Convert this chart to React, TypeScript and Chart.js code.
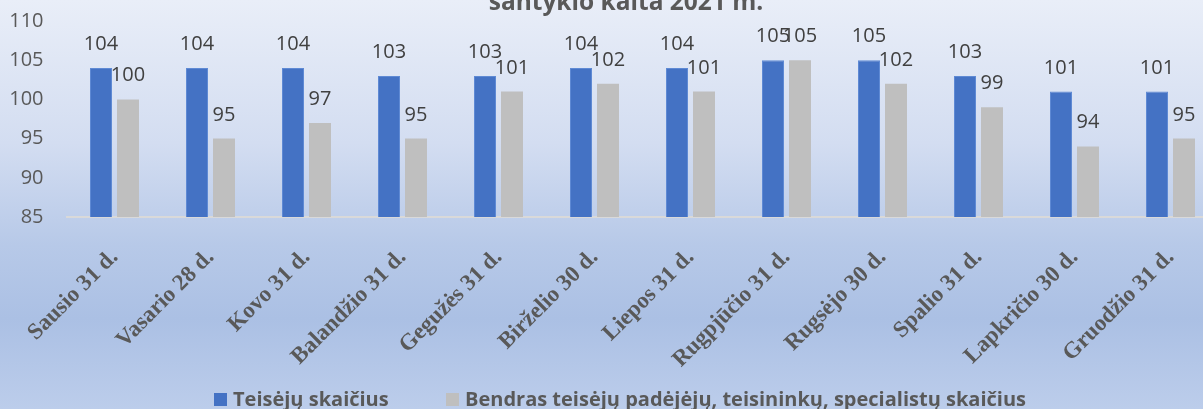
import React, { useEffect, useRef } from 'react';
import { Chart, registerables } from 'chart.js';

Chart.register(...registerables);

const categories = [
  'Sausio 31 d.', 'Vasario 28 d.', 'Kovo 31 d.', 'Balandžio 31 d.', 'Gegužės 31 d.', 'Birželio 30 d.',
  'Liepos 31 d.', 'Rugpjūčio 31 d.', 'Rugsėjo 30 d.', 'Spalio 31 d.', 'Lapkričio 30 d.', 'Gruodžio 31 d.',
];
const judges = [104, 104, 104, 103, 103, 104, 104, 105, 105, 103, 101, 101];
const staff = [100, 95, 97, 95, 101, 102, 101, 105, 102, 99, 94, 95];
const seriesNames = ['Teisėjų skaičius', 'Bendras teisėjų padėjėjų, teisininkų, specialistų skaičius'];
const seriesColors = ['#4472C4', '#BFBFBF'];
const yMin = 85;
const yMax = 110;
const yStep = 5;
const titleText = 'santykio kaita 2021 m.';

const TEXT = '#595959';
const LABEL = '#404040';

const valueLabels = {
  id: 'valueLabels',
  afterDatasetsDraw(chart: any) {
    const ctx = chart.ctx;
    ctx.save();
    ctx.font = '20px "Open Sans"';
    ctx.fillStyle = LABEL;
    ctx.textAlign = 'center';
    ctx.textBaseline = 'alphabetic';
    chart.data.datasets.forEach((ds: any, i: number) => {
      const meta = chart.getDatasetMeta(i);
      meta.data.forEach((el: any, j: number) => {
        ctx.fillText(String(ds.data[j]), el.x, el.y - 18);
      });
    });
    ctx.restore();
  },
};

const titleAndLegend = {
  id: 'titleAndLegend',
  afterDraw(chart: any) {
    const ctx = chart.ctx;
    ctx.save();
    ctx.fillStyle = TEXT;
    ctx.font = 'bold 24.5px "Open Sans"';
    ctx.textAlign = 'center';
    ctx.textBaseline = 'alphabetic';
    ctx.fillText(titleText, 626, 10);

    ctx.font = 'bold 20px "Open Sans"';
    ctx.textAlign = 'left';
    const boxXs = [214, 446];
    chart.data.datasets.forEach((ds: any, i: number) => {
      const bx = boxXs[i];
      ctx.fillStyle = ds.backgroundColor;
      ctx.fillRect(bx, 393, 13, 13);
      ctx.fillStyle = TEXT;
      ctx.fillText(ds.label, bx + 19, 406);
    });
    ctx.restore();
  },
};

export default function App() {
  const ref = useRef<HTMLCanvasElement | null>(null);
  useEffect(() => {
    document.body.style.margin = '0';
    const canvas = ref.current;
    if (!canvas) return;
    const chart = new Chart(canvas, {
      type: 'bar',
      data: {
        labels: categories,
        datasets: [
          {
            label: seriesNames[0], data: judges, backgroundColor: seriesColors[0],
            borderColor: '#5F8AD4', borderWidth: 1,
            barPercentage: 0.815, categoryPercentage: 0.5625,
          },
          {
            label: seriesNames[1], data: staff, backgroundColor: seriesColors[1],
            barPercentage: 0.815, categoryPercentage: 0.5625,
          },
        ],
      },
      options: {
        animation: false,
        responsive: false,
        devicePixelRatio: 1,
        layout: { padding: { top: 21, right: 6.5, left: 0, bottom: 0 } },
        plugins: {
          legend: { display: false },
          title: { display: false },
          tooltip: { enabled: false },
        },
        scales: {
          x: {
            grid: { display: false, drawTicks: false },
            border: { display: true, color: '#D9D9D9', width: 2 },
            ticks: {
              autoSkip: false,
              minRotation: 45,
              maxRotation: 45,
              padding: 27,
              color: TEXT,
              font: { family: '"Liberation Serif"', size: 23, weight: 'bold' },
            },
            afterFit: (scale: any) => { scale.height = 192; },
          },
          y: {
            min: yMin,
            max: yMax,
            grid: { display: false, drawTicks: false },
            border: { display: false },
            ticks: {
              stepSize: yStep,
              padding: 23,
              color: TEXT,
              font: { family: '"Open Sans"', size: 20 },
            },
            afterFit: (scale: any) => {
              scale.width = 66.5;
              scale.paddingTop = 0;
              scale.paddingBottom = 0;
            },
          },
        },
      },
      plugins: [valueLabels, titleAndLegend],
    });
    return () => chart.destroy();
  }, []);

  return (
    <div
      style={{
        position: 'fixed',
        left: 0,
        top: 0,
        width: 1203,
        height: 409,
        overflow: 'hidden',
        background: 'linear-gradient(180deg, #E9EEF8 0%, #D3DDF1 35%, #B7C9E8 60%, #ABC0E4 78%, #BCCDEB 100%)',
      }}
    >
      <canvas ref={ref} width={1225} height={409} style={{ width: 1225, height: 409, display: 'block' }} />
    </div>
  );
}
